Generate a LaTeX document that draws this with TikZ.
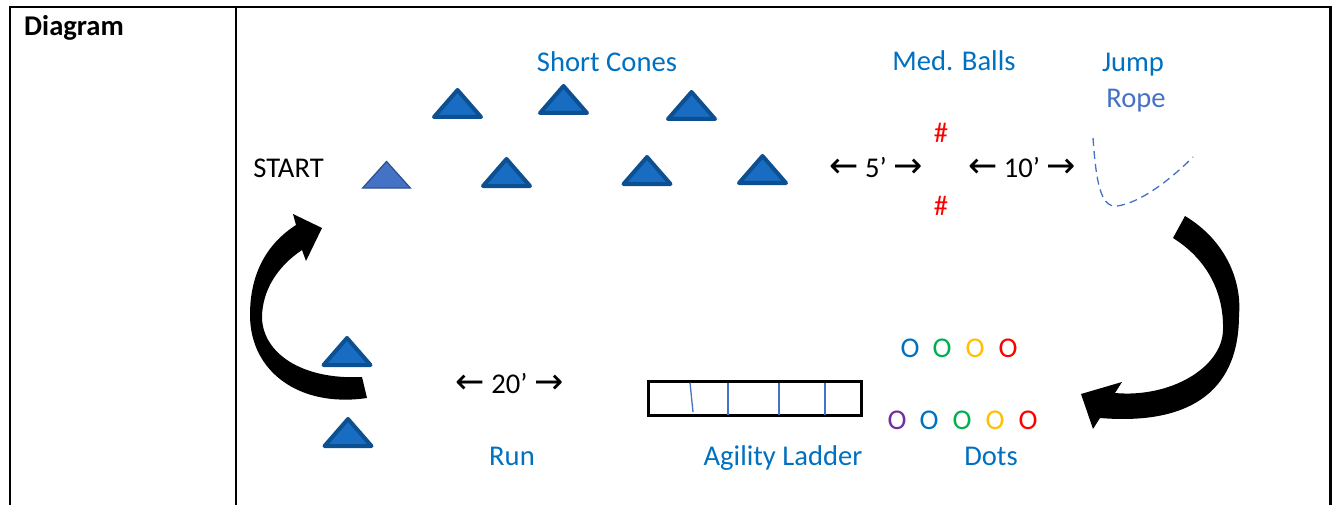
\documentclass[tikz,border=0pt]{standalone}
\usepackage{fontspec}
\setmainfont{Carlito}
\newfontfamily\arrowfont{DejaVu Sans}
\definecolor{labelblue}{RGB}{0,112,192}
\definecolor{ropeblue}{RGB}{68,114,196}
\definecolor{conefill}{RGB}{24,108,194}
\definecolor{coneedge}{RGB}{12,80,146}
\definecolor{startedge}{RGB}{47,82,143}
\definecolor{dotgreen}{RGB}{0,176,80}
\definecolor{dotyellow}{RGB}{255,192,0}
\definecolor{dotpurple}{RGB}{112,48,160}
\newcommand{\larr}{{\arrowfont\fontsize{35}{40}\selectfont←}}
\newcommand{\rarr}{{\arrowfont\fontsize{35}{40}\selectfont→}}
\tikzset{
    lbl/.style={font=\fontsize{28.6}{34}\selectfont,inner sep=0pt,anchor=base},
    bluelbl/.style={lbl,text=labelblue},
    cone edge/.style={draw=coneedge,fill=conefill,line width=4pt,line join=round},
    start edge/.style={draw=startedge,fill=ropeblue,line width=1.3pt,line join=miter},
    cone/.pic={\path[cone edge] (-23.5,0) -- (0,-27) -- (23.5,0) -- cycle;},
    startcone/.pic={\path[start edge] (-23.8,0) -- (0,-26.5) -- (23.8,0) -- cycle;},
    frame/.style={line width=2.5pt},
    rung/.style={draw=ropeblue,line width=1.3pt},
    turn/.style={fill=black}
}

\begin{document}
\begin{tikzpicture}[x=1pt,y=-1pt]
    \useasboundingbox (0,0) rectangle (1337,505);

    % table cells
    \draw[frame] (10,505) -- (10,7) -- (1330.5,7) -- (1330.5,505);
    \draw[frame] (236,7) -- (236,505);
    \node[lbl,anchor=base west] (title) at (24,36) {\bfseries Diagram};

    % cones
    \pic (c1) at (457.5,117) {cone};
    \pic (c2) at (563.5,113) {cone};
    \pic (c3) at (691.5,119) {cone};
    \pic (c0) at (386.5,188) {startcone};
    \pic (c4) at (506.5,186) {cone};
    \pic (c5) at (647,184) {cone};
    \pic (c6) at (762.5,183) {cone};
    \pic (c7) at (347,365) {cone};
    \pic (c8) at (348,446) {cone};

    % labels
    \node[lbl] (start) at (288.5,178) {START};
    \node[bluelbl] (cones) at (607,72) {Short Cones};
    \node[bluelbl] (balls) at (954,71) {Med. Balls};
    \node[bluelbl] (jump) at (1133,72) {Jump};
    \node[lbl,text=ropeblue] (rope) at (1136,108) {Rope};
    \node[lbl] (five) at (876,178) {\larr{} 5’ \rarr};
    \node[lbl] (ten) at (1022,178) {\larr{} 10’ \rarr};
    \node[lbl] (twenty) at (509.5,393) {\larr{} 20’ \rarr};
    \node[lbl,text=red] (ballA) at (941,143) {\#};
    \node[lbl,text=red] (ballB) at (941,215) {\#};
    \node[bluelbl] (run) at (512,465) {Run};
    \node[bluelbl] (agility) at (783,465) {Agility Ladder};
    \node[bluelbl] (dots) at (991,465) {Dots};

    % jump rope
    \draw[ropeblue,line width=1.3pt,dash pattern=on 8pt off 5pt]
        (1093,138) .. controls (1096,180) and (1100,208) .. (1117,206)
        .. controls (1140,203) and (1170,180) .. (1193,157);

    % agility ladder
    \node[draw,line width=2.7pt,minimum width=213pt,minimum height=33.8pt,inner sep=0pt]
        (ladder) at (755,398.4) {};
    \draw[rung] (690,382.5) -- (693,412);
    \foreach \x in {728,779,825}
        \draw[rung] (\x,382.5) -- (\x,414.5);

    % dots
    \foreach \x/\c in {910/labelblue,942/dotgreen,975/dotyellow,1008/red}
        \node[lbl,text=\c] (dotA\x) at (\x,357) {O};
    \foreach \x/\c in {897/dotpurple,929/labelblue,962/dotgreen,995/dotyellow,1028/red}
        \node[lbl,text=\c] (dotB\x) at (\x,429) {O};

    % curved arrows
    \fill[turn] (1185,216) .. controls (1225,240) and (1242,280) .. (1239,315)
        .. controls (1239,395) and (1185,425) .. (1100,418)
        -- (1093,429) -- (1081,394) -- (1122,382) -- (1115,393)
        .. controls (1170,398) and (1222,368) .. (1223,330)
        .. controls (1224,290) and (1205,258) .. (1173,238) -- cycle;
    \fill[turn] (367,398) .. controls (300,408) and (250,372) .. (250,315)
        .. controls (250,272) and (268,243) .. (296,225)
        -- (293,214) -- (322,228) -- (306,261) -- (302,250)
        .. controls (278,266) and (262,290) .. (262,318)
        .. controls (263,352) and (300,380) .. (362,377) -- cycle;
\end{tikzpicture}
\end{document}
